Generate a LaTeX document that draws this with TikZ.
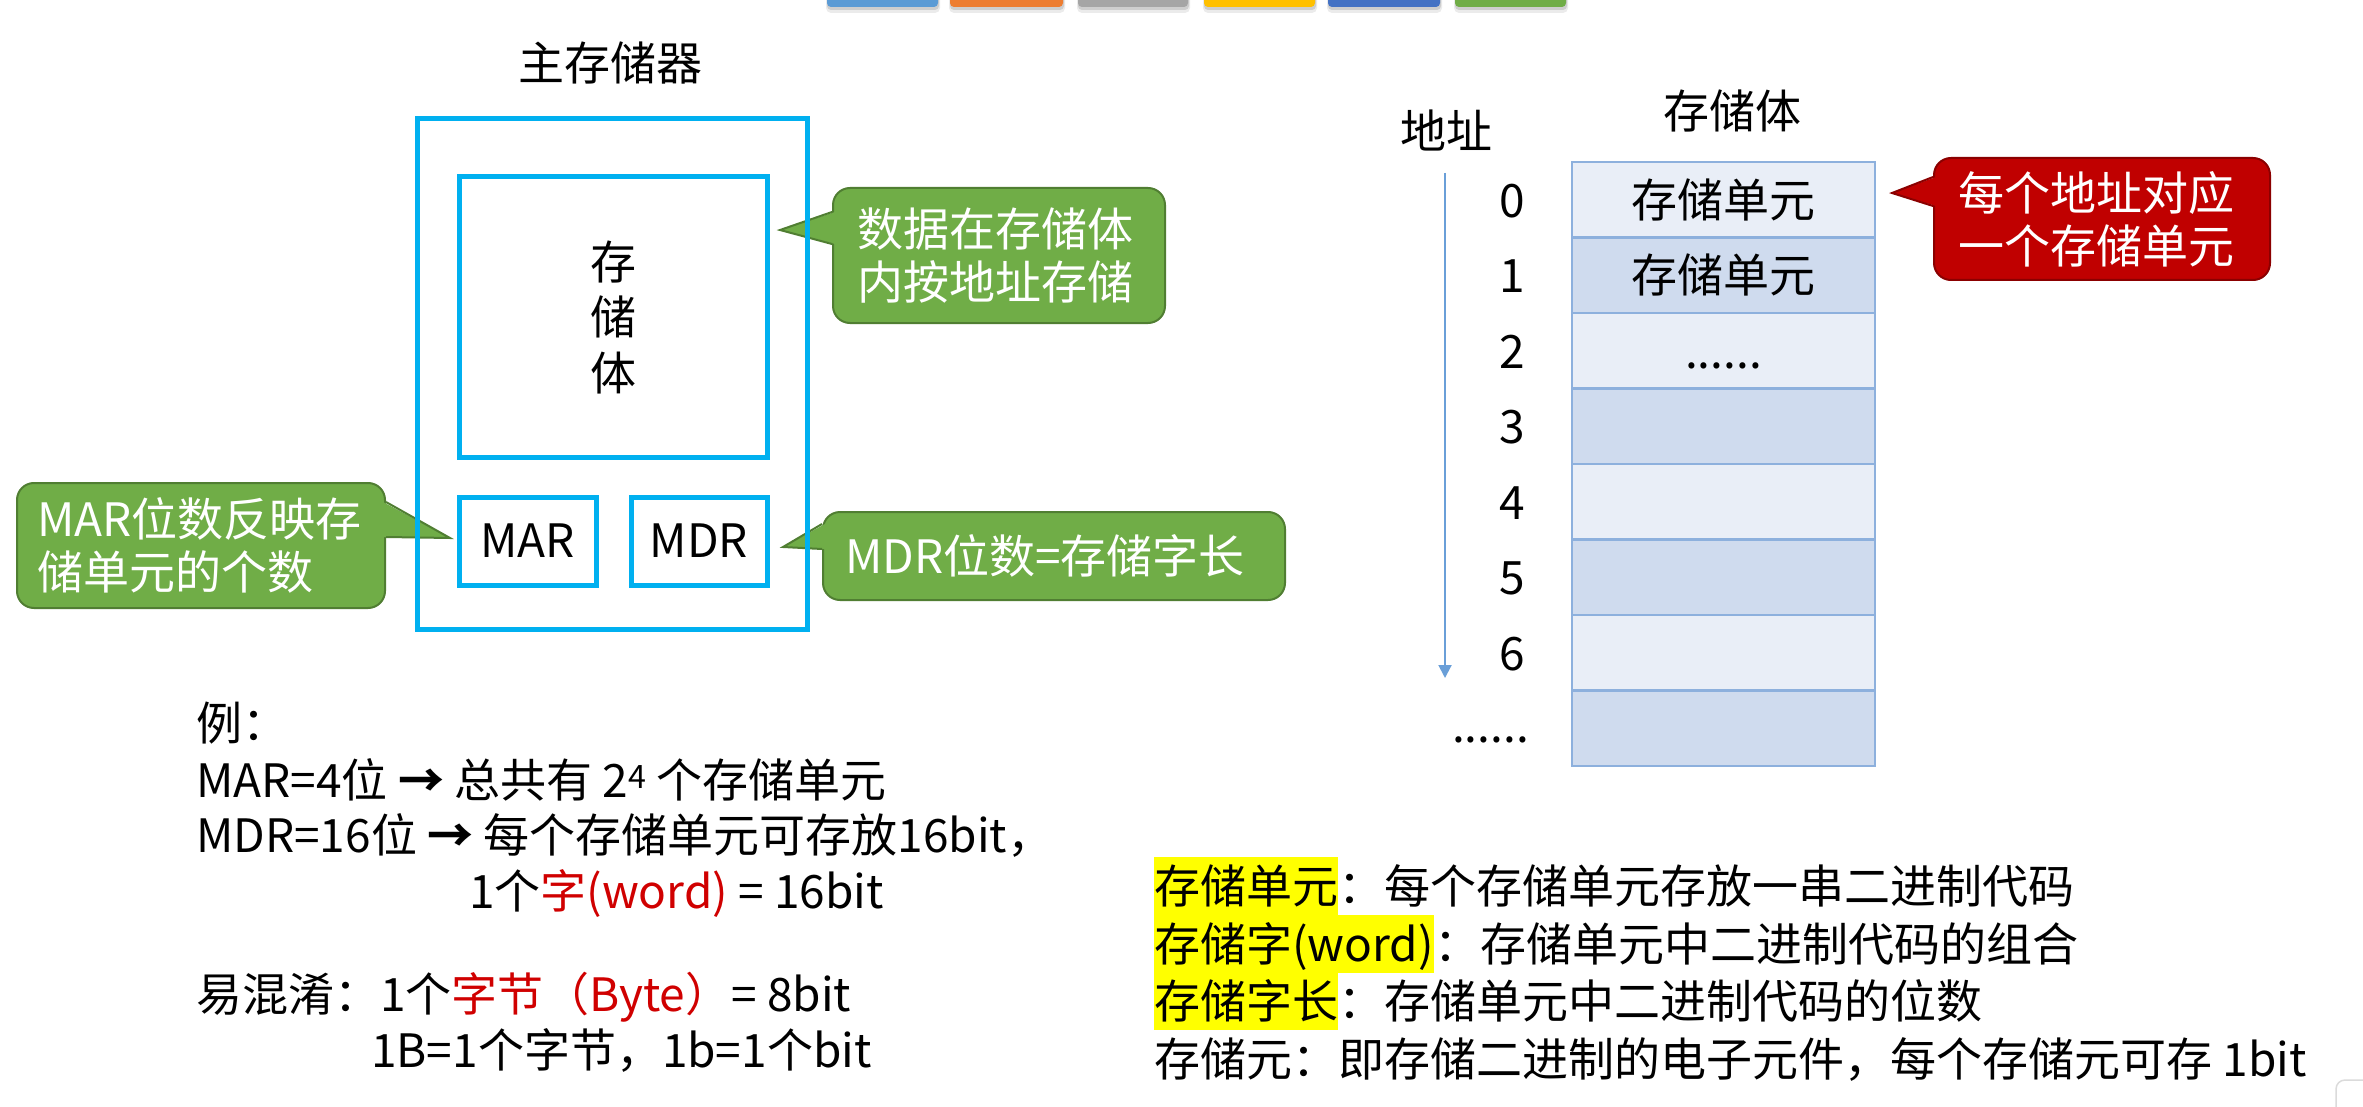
\documentclass[tikz,border=0pt]{standalone}
\usepackage{fontspec}
\setmainfont{Noto Sans CJK SC}
\usetikzlibrary{arrows.meta,calc}

\definecolor{boxblue}{HTML}{00B0F0}
\definecolor{callgreen}{HTML}{70AD47}
\definecolor{callgreenedge}{HTML}{507E32}
\definecolor{callred}{HTML}{C00000}
\definecolor{callrededge}{HTML}{8B0000}
\definecolor{celllight}{HTML}{E9EEF7}
\definecolor{celldark}{HTML}{CFDBEE}
\definecolor{celledge}{HTML}{8DB0DD}
\definecolor{addrblue}{HTML}{6A9FD8}
\definecolor{hlyellow}{HTML}{FFFF00}
\definecolor{wordred}{HTML}{D00000}
\definecolor{tabA}{HTML}{5B9BD5}
\definecolor{tabB}{HTML}{ED7D31}
\definecolor{tabC}{HTML}{A5A5A5}
\definecolor{tabD}{HTML}{FFC000}
\definecolor{tabE}{HTML}{4472C4}
\definecolor{tabF}{HTML}{70AD47}

\newcommand\sixdots{......}

\tikzset{
  txt/.style={inner sep=0pt, font=\fontsize{46}{53}\selectfont,
    text height=40.5pt, text depth=5.5pt},
  bluebox/.style={draw=boxblue, line width=5pt, inner sep=0pt,
    font=\fontsize{46}{55.5}\selectfont},
  callbody/.style={rounded corners=17pt, line width=2pt, text=white,
    align=left, inner sep=0pt, font=\fontsize{46}{53}\selectfont},
  gcall/.style={callbody, fill=callgreen, draw=callgreenedge},
  rcall/.style={callbody, fill=callred, draw=callrededge},
  cell/.style={draw=celledge, line width=2.5pt, minimum width=303pt,
    minimum height=75.5pt, inner sep=0pt, font=\fontsize{46}{53}\selectfont,
    text height=40.5pt, text depth=5.5pt},
  hl/.style={txt, fill=hlyellow, inner ysep=6pt},
  addr/.style={draw=addrblue, line width=2pt,
    -{Triangle[width=13pt,length=13pt]}},
}

\begin{document}
\begin{tikzpicture}[x=1pt, y=-1pt]
\useasboundingbox (0,0) rectangle (2363,1107);
\fill[white] (0,0) rectangle (2363,1107);

% colour tabs along the top edge
\foreach \xa/\xb/\c in {827/938/tabA, 950/1063/tabB, 1078/1188/tabC,
                        1204/1315/tabD, 1328/1440/tabE, 1455/1566/tabF} {
  \fill[black, opacity=0.08, rounded corners=5pt] (\xa-1,-10) rectangle (\xb+2,13);
  \fill[black, opacity=0.12, rounded corners=4pt] (\xa,-10) rectangle (\xb+1,10);
  \fill[\c, rounded corners=4pt] (\xa,-10) rectangle (\xb,7);
}

% callouts (drawn below the memory outline)
\node[gcall, minimum width=332pt, minimum height=135pt, text width=284pt] (c1) at (999,255.5) {数据在存储体\\内按地址存储};
\node[gcall, minimum width=368pt, minimum height=125pt, text width=328pt] (c2) at (201,545.5) {MAR位数反映存\\储单元的个数};
\node[gcall, minimum width=462pt, minimum height=88pt, text width=418pt] (c3) at (1054,556) {MDR位数=存储字长};
\node[rcall, minimum width=336pt, minimum height=122pt, text width=288pt] (c4) at (2102,219) {每个地址对应\\一个存储单元};

\coordinate (t1) at (780,230);
\coordinate (t2) at (450,538);
\coordinate (t3) at (783,547);
\coordinate (t4) at (1892,193);

\fill[callgreen] ($(c1.north west)+(3,25)$) -- (t1) -- ($(c1.north west)+(3,57)$) -- cycle;
\draw[callgreenedge, line width=2pt] ($(c1.north west)+(0,25)$) -- (t1) -- ($(c1.north west)+(0,57)$);

\fill[callgreen] ($(c2.north east)+(-3,20)$) -- (t2) -- ($(c2.north east)+(-3,55)$) -- cycle;
\draw[callgreenedge, line width=2pt] ($(c2.north east)+(0,20)$) -- (t2) -- ($(c2.north east)+(0,55)$);

\fill[callgreen] ($(c3.north west)+(3,13)$) -- (t3) -- ($(c3.north west)+(3,38)$) -- cycle;
\draw[callgreenedge, line width=2pt] ($(c3.north west)+(0,13)$) -- (t3) -- ($(c3.north west)+(0,38)$);

\fill[callred] ($(c4.north west)+(3,20)$) -- (t4) -- ($(c4.north west)+(3,49)$) -- cycle;
\draw[callrededge, line width=2pt] ($(c4.north west)+(0,20)$) -- (t4) -- ($(c4.north west)+(0,49)$);

% main memory: storage bank, MAR, MDR
\node[txt] (title) at (610,63) {主存储器};
\node[bluebox, minimum width=390pt, minimum height=510pt] (mem) at (612,374) {};
\node[bluebox, minimum width=308pt, minimum height=280pt, align=center] (bank) at (613,317) {存\\储\\体};
\node[bluebox, minimum width=137pt, minimum height=88pt] (mar) at (527.5,541) {MAR};
\node[bluebox, minimum width=136pt, minimum height=88pt] (mdr) at (699,541) {MDR};

% storage bank table with addresses
\node[txt] (banklabel) at (1732,111) {存储体};
\node[txt] (addrlabel) at (1446,131) {地址};
\foreach \i/\f/\t in {0/celllight/存储单元, 1/celldark/存储单元, 2/celllight/\sixdots,
                      3/celldark/{}, 4/celllight/{}, 5/celldark/{}, 6/celllight/{}, 7/celldark/{}} {
  \node[cell, fill=\f] (row\i) at (1723.5,{199.75+75.5*\i}) {\t};
}
\foreach \i in {0,1,2,3,4,5,6} {
  \node[txt] (a\i) at (1512,{199.75+75.5*\i}) {\i};
}
\node[txt, anchor=east] (adots) at (1529,725) {\sixdots};
\coordinate (aTop) at (1445,173);
\coordinate (aBot) at (1445,678);
\draw[addr] (aTop) -- (aBot);

% example notes
\node[txt, anchor=west] (ex0) at (196,723) {例：};
\node[txt, anchor=west] (ex1) at (196,780) {MAR=4位 {\bfseries →} 总共有 2\textsuperscript{4} 个存储单元};
\node[txt, anchor=west] (ex2) at (196,835) {MDR=16位 {\bfseries →} 每个存储单元可存放16bit，};
\node[txt, anchor=west] (ex3) at (469,891) {1个\textcolor{wordred}{字(word)} = 16bit};
\node[txt, anchor=west] (ex4) at (196,994) {易混淆：1个\textcolor{wordred}{字节（Byte）}= 8bit};
\node[txt, anchor=west] (ex5) at (371,1050) {1B=1个字节，1b=1个bit};

% definitions
\node[hl, anchor=west] (d1) at (1154,886) {存储单元};
\node[txt, anchor=base west] (d1b) at (d1.base east) {：每个存储单元存放一串二进制代码};
\node[hl, anchor=west] (d2) at (1154,943.5) {存储字(word)};
\node[txt, anchor=base west] (d2b) at (d2.base east) {：存储单元中二进制代码的组合};
\node[hl, anchor=west] (d3) at (1154,1001) {存储字长};
\node[txt, anchor=base west] (d3b) at (d3.base east) {：存储单元中二进制代码的位数};
\node[txt, anchor=west] (d4) at (1154,1058.5) {存储元：即存储二进制的电子元件，每个存储元可存 1bit};

% faint corner element
\draw[black!14, line width=1.5pt, rounded corners=9pt] (2336,1107) -- (2336,1080) -- (2363,1080);
\end{tikzpicture}
\end{document}
